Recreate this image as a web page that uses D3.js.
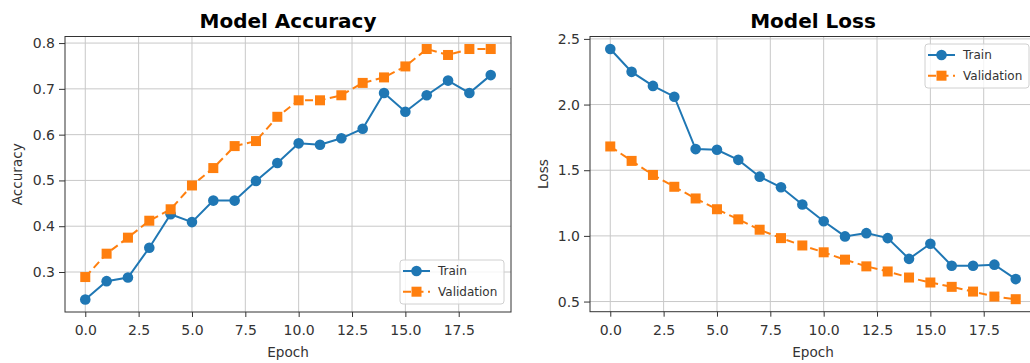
<!DOCTYPE html>
<html><head><meta charset="utf-8">
<script src="https://cdn.jsdelivr.net/npm/d3@7"></script>
<style>
html,body{margin:0;padding:0;background:#fff;overflow:hidden}
svg{display:block}
text{font-family:"DejaVu Sans",sans-serif}
</style></head><body>
<svg id="chart" width="1030" height="363"></svg>
<script>
const epochs = d3.range(20);
const accTrain = [0.240,0.280,0.288,0.353,0.426,0.409,0.456,0.456,0.499,0.538,0.581,0.578,0.592,0.613,0.691,0.650,0.686,0.718,0.691,0.730];
const accVal   = [0.289,0.340,0.375,0.412,0.437,0.489,0.527,0.575,0.586,0.639,0.675,0.675,0.686,0.713,0.725,0.749,0.787,0.774,0.787,0.787];
const lossTrain = [2.423,2.249,2.142,2.060,1.661,1.656,1.579,1.451,1.370,1.239,1.111,0.996,1.021,0.983,0.825,0.940,0.773,0.773,0.781,0.671];
const lossVal   = [1.681,1.571,1.464,1.374,1.285,1.203,1.126,1.047,0.983,0.927,0.875,0.819,0.768,0.729,0.683,0.645,0.612,0.576,0.538,0.518];
const xTicks = [0,2.5,5,7.5,10,12.5,15,17.5];
const accTicks = [0.3,0.4,0.5,0.6,0.7,0.8];
const lossTicks = [0.5,1.0,1.5,2.0,2.5];
const seriesNames = ["Train","Validation"];

const BLUE = "#1f77b4", ORANGE = "#ff7f0e";
const svg = d3.select("#chart");

function panel(cfg){
  const g = svg.append("g");
  const x = d3.scaleLinear().domain([-0.95,19.95]).range([cfg.left, cfg.right]);
  const lo = d3.min([...cfg.train,...cfg.val]), hi = d3.max([...cfg.train,...cfg.val]);
  const pad = (hi-lo)*0.05;
  const y = d3.scaleLinear().domain([lo-pad, hi+pad]).range([cfg.bottom, cfg.top]);

  // grid
  g.append("g").selectAll("line.gx").data(xTicks).join("line")
    .attr("x1",d=>x(d)).attr("x2",d=>x(d)).attr("y1",cfg.top).attr("y2",cfg.bottom)
    .attr("stroke","#c8c8c8").attr("stroke-width",1);
  g.append("g").selectAll("line.gy").data(cfg.yTicks).join("line")
    .attr("x1",cfg.left).attr("x2",cfg.right).attr("y1",d=>y(d)).attr("y2",d=>y(d))
    .attr("stroke","#c8c8c8").attr("stroke-width",1);

  // lines
  const line = d3.line().x((d,i)=>x(epochs[i])).y(d=>y(d));
  g.append("path").datum(cfg.train).attr("d",line).attr("fill","none")
    .attr("stroke",BLUE).attr("stroke-width",2);
  g.append("path").datum(cfg.val).attr("d",line).attr("fill","none")
    .attr("stroke",ORANGE).attr("stroke-width",2).attr("stroke-dasharray","8,4.5");
  g.append("g").selectAll("circle").data(cfg.train).join("circle")
    .attr("cx",(d,i)=>x(epochs[i])).attr("cy",d=>y(d)).attr("r",5.3).attr("fill",BLUE);
  g.append("g").selectAll("rect").data(cfg.val).join("rect")
    .attr("x",(d,i)=>x(epochs[i])-5).attr("y",d=>y(d)-5).attr("width",10).attr("height",10).attr("fill",ORANGE);

  // spines
  g.append("rect").attr("x",cfg.left).attr("y",cfg.top)
    .attr("width",cfg.right-cfg.left).attr("height",cfg.bottom-cfg.top)
    .attr("fill","none").attr("stroke","#333").attr("stroke-width",1);

  // axes
  const ax = g.append("g").attr("transform",`translate(0,${cfg.bottom})`)
    .call(d3.axisBottom(x).tickValues(xTicks).tickFormat(d3.format(".1f")).tickSize(5).tickPadding(8));
  const ay = g.append("g").attr("transform",`translate(${cfg.left},0)`)
    .call(d3.axisLeft(y).tickValues(cfg.yTicks).tickFormat(d3.format(".1f")).tickSize(6).tickPadding(4));
  [ax,ay].forEach(a=>{
    a.select(".domain").remove();
    a.selectAll(".tick line").attr("stroke","#333");
    a.selectAll(".tick text").attr("fill","#333").style("font-size","14px").style("font-family","DejaVu Sans");
  });

  // labels
  const cx = (cfg.left+cfg.right)/2;
  g.append("text").attr("x",cx).attr("y",28).attr("text-anchor","middle")
    .style("font-size","20px").style("font-weight","bold").attr("fill","#000").text(cfg.title);
  g.append("text").attr("x",cx).attr("y",357).attr("text-anchor","middle")
    .style("font-size","13.6px").attr("fill","#333").text("Epoch");
  g.append("text").attr("transform",`translate(${cfg.ylabelX},${(cfg.top+cfg.bottom)/2}) rotate(-90)`)
    .attr("text-anchor","middle").attr("dominant-baseline","central")
    .style("font-size","13.6px").attr("fill","#333").text(cfg.ylabel);

  // legend
  const L = cfg.legend;
  const lg = g.append("g").attr("transform",`translate(${L.x},${L.y})`);
  lg.append("rect").attr("width",L.w).attr("height",L.h).attr("rx",3)
    .attr("fill","#fff").attr("fill-opacity",0.8).attr("stroke","#d0d0d0");
  seriesNames.forEach((name,i)=>{
    const yy = 11 + i*20.7;
    const e = lg.append("g");
    e.append("line").attr("x1",3).attr("x2",30).attr("y1",yy).attr("y2",yy)
      .attr("stroke",i?ORANGE:BLUE).attr("stroke-width",2).attr("stroke-dasharray",i?"8,4.5":null);
    if(i) e.append("rect").attr("x",16.5-5).attr("y",yy-5).attr("width",10).attr("height",10).attr("fill",ORANGE);
    else e.append("circle").attr("cx",16.5).attr("cy",yy).attr("r",5.3).attr("fill",BLUE);
    e.append("text").attr("x",38).attr("y",yy).attr("dominant-baseline","central")
      .style("font-size","12px").attr("fill","#333").text(name);
  });
}

panel({left:65,right:511,top:36.5,bottom:312,train:accTrain,val:accVal,yTicks:accTicks,
  title:"Model Accuracy",ylabel:"Accuracy",ylabelX:17,
  legend:{x:400,y:260,w:104,h:44}});
panel({left:590,right:1036,top:36.5,bottom:311.7,train:lossTrain,val:lossVal,yTicks:lossTicks,
  title:"Model Loss",ylabel:"Loss",ylabelX:543,
  legend:{x:925,y:44,w:104,h:44}});
</script>
</body></html>
